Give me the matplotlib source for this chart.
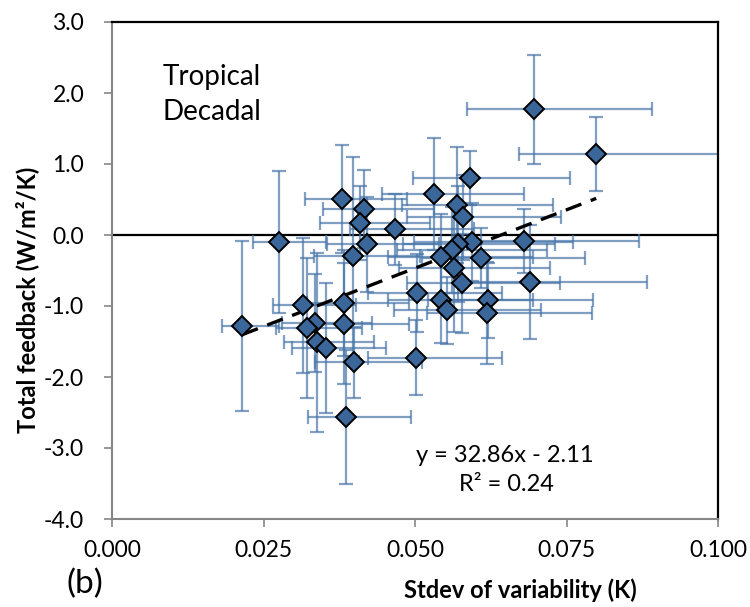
import numpy as np
import matplotlib
matplotlib.use("Agg")
from matplotlib import pyplot as plt

plt.rcParams['font.family'] = ['Lato', 'DejaVu Sans']

# stdev of variability (K) and total feedback (W/m2/K), one per model
stdev = [0.0696, 0.0799, 0.0591, 0.0380, 0.0531, 0.0569, 0.0416, 0.0579, 0.0409, 0.0467,
         0.0276, 0.0421, 0.0680, 0.0594, 0.0398, 0.0571, 0.0561, 0.0543, 0.0609, 0.0564,
         0.0578, 0.0690, 0.0503, 0.0620, 0.0619, 0.0543, 0.0553, 0.0383, 0.0315, 0.0215,
         0.0335, 0.0322, 0.0383, 0.0338, 0.0353, 0.0399, 0.0502, 0.0386]
feedback = [1.77, 1.14, 0.80, 0.51, 0.58, 0.42, 0.37, 0.25, 0.17, 0.08,
            -0.10, -0.13, -0.08, -0.10, -0.30, -0.13, -0.21, -0.31, -0.32, -0.46,
            -0.68, -0.66, -0.82, -0.92, -1.10, -0.92, -1.06, -0.96, -0.99, -1.28,
            -1.24, -1.31, -1.25, -1.51, -1.59, -1.79, -1.73, -2.56]
feedback_err = [0.77, 0.52, 0.38, 0.76, 0.79, 0.82, 0.55, 0.60, 0.52, 0.50,
                1.00, 0.67, 0.45, 0.55, 1.40, 0.82, 0.60, 0.60, 0.42, 0.90,
                0.70, 0.80, 0.55, 0.53, 0.72, 0.60, 0.47, 0.75, 0.95, 1.20,
                0.69, 0.99, 0.85, 1.26, 0.92, 0.50, 0.53, 0.94]
stdev_err_lo = [0.0111, 0.0128, 0.0095, 0.0061, 0.0085, 0.0091, 0.0067, 0.0093, 0.0065, 0.0075,
                0.0044, 0.0067, 0.0109, 0.0095, 0.0064, 0.0091, 0.0090, 0.0087, 0.0097, 0.0090,
                0.0092, 0.0110, 0.0080, 0.0099, 0.0099, 0.0087, 0.0088, 0.0061, 0.0050, 0.0034,
                0.0054, 0.0052, 0.0061, 0.0054, 0.0056, 0.0064, 0.0080, 0.0062]
stdev_err_hi = [0.0195, 0.0224, 0.0165, 0.0106, 0.0149, 0.0159, 0.0116, 0.0162, 0.0115, 0.0131,
                0.0077, 0.0118, 0.0190, 0.0166, 0.0111, 0.0160, 0.0157, 0.0152, 0.0171, 0.0158,
                0.0162, 0.0193, 0.0141, 0.0174, 0.0173, 0.0152, 0.0155, 0.0107, 0.0088, 0.0060,
                0.0094, 0.0090, 0.0107, 0.0095, 0.0099, 0.0112, 0.0141, 0.0108]

# linear trend shown on the chart
slope = 32.86
intercept = -2.11
r2 = 0.24

xticks = [0.000, 0.025, 0.050, 0.075, 0.100]
yticks = [-4.0, -3.0, -2.0, -1.0, 0.0, 1.0, 2.0, 3.0]

fig = plt.figure(figsize=(7.5, 6.07), dpi=100)
ax = fig.add_axes([112/750, 1-519/607, 606/750, 497/607])

x = np.array(stdev)
y = np.array(feedback)

ax.axhline(0, color='black', lw=1.6, zorder=1)

ax.errorbar(x, y, yerr=feedback_err, xerr=[stdev_err_lo, stdev_err_hi],
            fmt='none', ecolor='#4a76aa', alpha=0.7, elinewidth=1.6,
            capsize=5, capthick=1.6, zorder=2)
ax.plot(x, y, 'D', ms=10.5, mfc='#3a6699', mec='black', mew=1.4, zorder=4)

xfit = np.array([x.min(), x.max()])
ax.plot(xfit, slope*xfit + intercept, color='black', lw=2.4,
        dashes=(5, 3), zorder=3)

ax.set_xlim(0, 0.1)
ax.set_ylim(-4, 3)
ax.set_xticks(xticks)
ax.set_xticklabels(["%.3f" % t for t in xticks])
ax.set_yticks(yticks)
ax.set_yticklabels(["%.1f" % t for t in yticks])
ax.tick_params(axis='both', direction='out', length=6, width=1.2,
               color='#868686', labelsize=16.5)
ax.tick_params(axis='x', pad=9)
ax.tick_params(axis='y', pad=14)

for side in ['left', 'bottom']:
    ax.spines[side].set_color('#868686')
    ax.spines[side].set_linewidth(1.5)
for side in ['top', 'right']:
    ax.spines[side].set_color('black')
    ax.spines[side].set_linewidth(1.6)

ax.text(0.0084, 2.23, "Tropical", fontsize=20, va='center', ha='left')
ax.text(0.0084, 1.73, "Decadal", fontsize=20, va='center', ha='left')
ax.text(0.0649, -3.10, "y = 32.86x - 2.11", fontsize=17, ha='center', va='center')
ax.text(0.0651, -3.52, "R\u00b2 = %.2f" % r2, fontsize=17, ha='center', va='center')

fig.text(520/750, 1-590/607, "Stdev of variability (K)", fontsize=17,
         fontweight='bold', ha='center', va='center')
fig.text(27/750, 1-300/607, "Total feedback (W/m\u00b2/K)", fontsize=17,
         fontweight='bold', ha='center', va='center', rotation=90)
fig.text(85/750, 1-584/607, "(b)", fontsize=24, ha='center', va='center')

fig.savefig("out.png", dpi=100)
